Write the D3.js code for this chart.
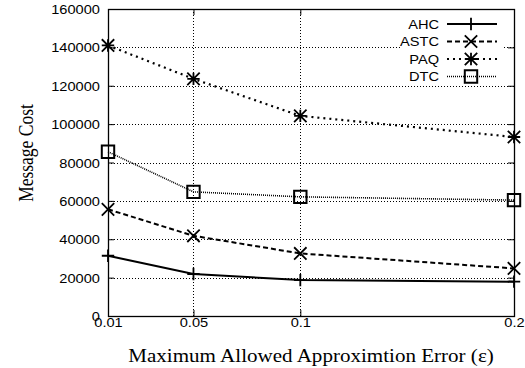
<!DOCTYPE html>
<html>
<head>
<meta charset="utf-8">
<script src="https://cdn.jsdelivr.net/npm/d3@7"></script>
<style>
  html, body { margin: 0; padding: 0; background: #fff; }
  svg { display: block; }
  .sans { font-family: "Liberation Sans", Arial, Helvetica, sans-serif; }
  .serif { font-family: "Liberation Serif", "Times New Roman", serif; }
</style>
</head>
<body>
<svg id="chart" width="525" height="368"></svg>
<script>
// Message cost versus the maximum allowed approximation error
const epsilon = [0.01, 0.05, 0.1, 0.2];
const ahcCost  = [31400, 21900, 18700, 17900];
const astcCost = [55600, 41800, 32600, 24800];
const paqCost  = [141000, 123600, 104300, 93300];
const dtcCost  = [85600, 64700, 62100, 60400];

const seriesNames = ["AHC", "ASTC", "PAQ", "DTC"];
const xTickValues = [0.01, 0.05, 0.1, 0.2];
const xTickLabels = ["0.01", "0.05", "0.1", "0.2"];
const yTickValues = [0, 20000, 40000, 60000, 80000, 100000, 120000, 140000, 160000];
const yTickLabels = ["0", "20000", "40000", "60000", "80000", "100000", "120000", "140000", "160000"];

const xTitle = "Maximum Allowed Approximtion Error (\u03B5)";
const yTitle = "Message Cost";

const W = 525, H = 368;
const plot = { left: 108, right: 514, top: 9, bottom: 316 };
const stretch = 1.17;      // glyphs are drawn slightly wide
const tickLen = 6;

const svg = d3.select("#chart");
const x = d3.scaleLinear().domain([0.01, 0.2]).range([plot.left, plot.right]);
const y = d3.scaleLinear().domain([0, 160000]).range([plot.bottom, plot.top]);

// dotted grid (interior ticks only)
const grid = svg.append("g").attr("stroke", "#000").attr("stroke-width", 1)
  .attr("stroke-dasharray", "1,2").attr("fill", "none");
yTickValues.filter(v => v > 0 && v < 160000).forEach(v => {
  grid.append("line").attr("x1", plot.left).attr("x2", plot.right)
    .attr("y1", Math.round(y(v)) + 0.5).attr("y2", Math.round(y(v)) + 0.5);
});
xTickValues.filter(v => v > 0.01 && v < 0.2).forEach(v => {
  grid.append("line").attr("y1", plot.top).attr("y2", plot.bottom)
    .attr("x1", Math.round(x(v)) + 0.5).attr("x2", Math.round(x(v)) + 0.5);
});

// axes with inward ticks on all four sides
const fmtY = v => yTickLabels[yTickValues.indexOf(v)];
const fmtX = v => xTickLabels[xTickValues.indexOf(v)];

const gLeft = svg.append("g").attr("transform", `translate(${plot.left},0)`)
  .call(d3.axisLeft(y).tickValues(yTickValues).tickFormat(fmtY).tickSizeInner(-tickLen).tickSizeOuter(0).tickPadding(8));
const gRight = svg.append("g").attr("transform", `translate(${plot.right},0)`)
  .call(d3.axisRight(y).tickValues(yTickValues).tickFormat("").tickSizeInner(-tickLen).tickSizeOuter(0));
const gBottom = svg.append("g").attr("transform", `translate(0,${plot.bottom})`)
  .call(d3.axisBottom(x).tickValues(xTickValues).tickFormat(fmtX).tickSizeInner(-tickLen).tickSizeOuter(0).tickPadding(3));
const gTop = svg.append("g").attr("transform", `translate(0,${plot.top})`)
  .call(d3.axisTop(x).tickValues(xTickValues).tickFormat("").tickSizeInner(-tickLen).tickSizeOuter(0));

[gLeft, gRight, gBottom, gTop].forEach(g => {
  g.select(".domain").remove();
  g.selectAll(".tick line").attr("stroke", "#000").attr("stroke-width", 1);
  g.selectAll("text").attr("class", "sans").attr("font-size", 12.5).attr("fill", "#000");
});
gLeft.selectAll(".tick text").attr("x", null).attr("dy", "0.36em")
  .attr("transform", `translate(-8,0) scale(${stretch},1)`);
gBottom.selectAll(".tick text").attr("y", null).attr("dy", null)
  .attr("transform", `translate(0,11) scale(${stretch},1)`);
gBottom.selectAll(".tick line").attr("y2", -tickLen);

// frame
svg.append("rect").attr("x", plot.left + 0.5).attr("y", plot.top + 0.5)
  .attr("width", plot.right - plot.left).attr("height", plot.bottom - plot.top)
  .attr("fill", "none").attr("stroke", "#000").attr("stroke-width", 1.3);

// series styles
const series = [
  { name: "AHC",  values: ahcCost,  dash: null,  width: 2,   marker: "plus" },
  { name: "ASTC", values: astcCost, dash: "5,3", width: 2,   marker: "cross" },
  { name: "PAQ",  values: paqCost,  dash: "2,4", width: 2.2, marker: "star" },
  { name: "DTC",  values: dtcCost,  dash: "1,1", width: 1.6, marker: "square" }
];

const m = 6.2; // marker half size
function drawMarker(g, type, cx, cy) {
  const p = d3.path();
  if (type === "plus" || type === "star") {
    p.moveTo(cx - m, cy); p.lineTo(cx + m, cy);
    p.moveTo(cx, cy - m); p.lineTo(cx, cy + m);
  }
  if (type === "cross" || type === "star") {
    p.moveTo(cx - m, cy - m); p.lineTo(cx + m, cy + m);
    p.moveTo(cx - m, cy + m); p.lineTo(cx + m, cy - m);
  }
  if (type === "square") {
    p.rect(cx - m, cy - m, 2 * m, 2 * m);
  }
  g.append("path").attr("d", p.toString()).attr("fill", "none")
    .attr("stroke", "#000").attr("stroke-width", type === "square" ? 2 : 1.8);
}

const line = d3.line().x((d, i) => x(epsilon[i])).y(d => y(d));
const gSeries = svg.append("g");
series.forEach(s => {
  gSeries.append("path").datum(s.values).attr("d", line)
    .attr("fill", "none").attr("stroke", "#000").attr("stroke-width", s.width)
    .attr("stroke-dasharray", s.dash);
  s.values.forEach((v, i) => drawMarker(gSeries, s.marker, x(epsilon[i]), y(v)));
});

// legend
const legend = svg.append("g");
legend.append("rect").attr("x", 402).attr("y", 13).attr("width", 101).attr("height", 71).attr("fill", "#fff");
series.forEach((s, i) => {
  const ly = 24 + i * 17.5;
  legend.append("text").attr("class", "sans").attr("font-size", 12.5)
    .attr("text-anchor", "end").attr("dy", "0.36em")
    .attr("transform", `translate(439,${ly}) scale(${stretch},1)`).text(seriesNames[i]);
  legend.append("line").attr("x1", 447).attr("x2", 497).attr("y1", ly).attr("y2", ly)
    .attr("stroke", "#000").attr("stroke-width", s.width).attr("stroke-dasharray", s.dash);
  drawMarker(legend, s.marker, 471, ly);
});

// axis titles
svg.append("text").attr("class", "serif").attr("font-size", 18).attr("text-anchor", "middle")
  .attr("transform", `translate(311,362) scale(${stretch},1)`).text(xTitle);
svg.append("text").attr("class", "serif").attr("font-size", 17.5).attr("text-anchor", "middle")
  .attr("transform", `translate(33,153) rotate(-90) scale(1,${stretch})`).text(yTitle);
</script>
</body>
</html>
